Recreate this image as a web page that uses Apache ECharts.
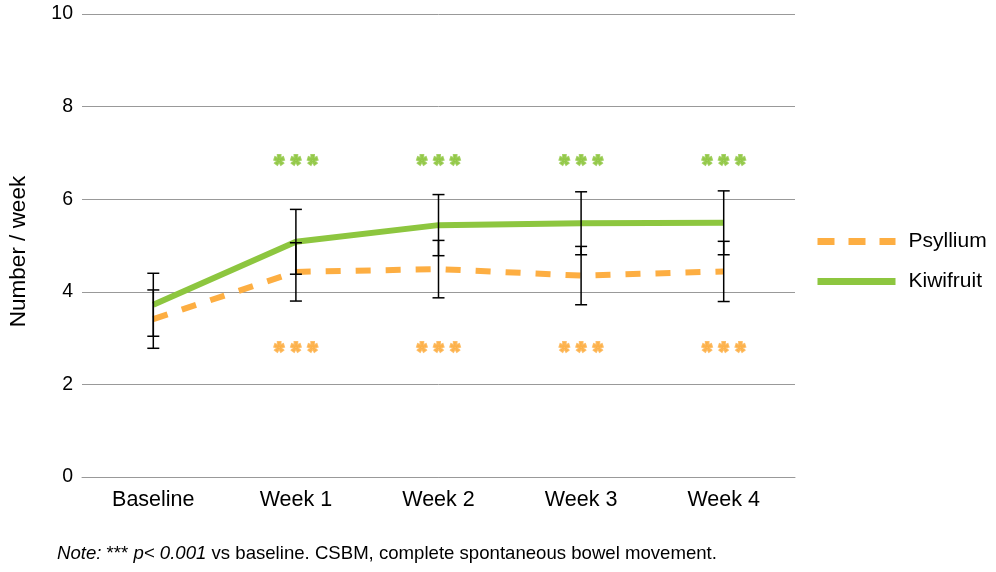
<!DOCTYPE html>
<html>
<head>
<meta charset="utf-8">
<script src="https://cdn.jsdelivr.net/npm/echarts@6/dist/echarts.min.js"></script>
<style>html,body{margin:0;padding:0;background:#fff}#c{width:996px;height:572px}</style>
</head>
<body>
<div id="c"></div>
<script>
const categories = ['Baseline', 'Week 1', 'Week 2', 'Week 3', 'Week 4'];
const psyllium = [3.41, 4.43, 4.49, 4.35, 4.44];
const psylliumErr = [0.63, 0.63, 0.62, 0.63, 0.65];
const kiwifruit = [3.72, 5.08, 5.44, 5.48, 5.49];
const kiwifruitErr = [0.68, 0.70, 0.66, 0.68, 0.69];
const kiwiSigY = 6.87;
const psylSigY = 2.82;
const sigCats = ['Week 1', 'Week 2', 'Week 3', 'Week 4'];
const yTicks = [0, 2, 4, 6, 8, 10];

const ORANGE = '#FDAE42';
const GREEN = '#8DC63F';
const FONT = 'Liberation Sans';

const errData = [];
categories.forEach((c, i) => {
  errData.push([i, kiwifruit[i] - kiwifruitErr[i], kiwifruit[i] + kiwifruitErr[i]]);
  errData.push([i, psyllium[i] - psylliumErr[i], psyllium[i] + psylliumErr[i]]);
});

function renderErr(params, api) {
  const x = api.value(0);
  const lo = api.coord([x, api.value(1)]);
  const hi = api.coord([x, api.value(2)]);
  const hw = 6;
  const style = { stroke: '#000', lineWidth: 1.5 };
  return {
    type: 'group',
    children: [
      { type: 'line', shape: { x1: lo[0], y1: lo[1], x2: hi[0], y2: hi[1] }, style },
      { type: 'line', shape: { x1: lo[0] - hw, y1: lo[1], x2: lo[0] + hw, y2: lo[1] }, style },
      { type: 'line', shape: { x1: hi[0] - hw, y1: hi[1], x2: hi[0] + hw, y2: hi[1] }, style }
    ]
  };
}

function starLabel(color) {
  return { show: true, position: 'inside', formatter: '* * *', color: color,
    fontSize: 25, fontWeight: 'bold', fontFamily: FONT, offset: [0, 7],
    textBorderColor: color, textBorderWidth: 2 };
}

const chart = echarts.init(document.getElementById('c'));
chart.setOption({
  animation: false,
  textStyle: { fontFamily: FONT },
  grid: { left: 82, right: 201, top: 14, bottom: 95, containLabel: false, outerBoundsMode: 'none' },
  legend: {
    orient: 'vertical',
    left: 809,
    top: 226,
    itemWidth: 78,
    itemHeight: 22,
    itemGap: 19,
    itemStyle: { opacity: 0 },
    textStyle: { fontSize: 21, color: '#000', fontFamily: FONT, padding: [0, 0, 0, 8] },
    data: [
      { name: 'Psyllium', lineStyle: { width: 7, type: [17, 14], color: ORANGE } },
      { name: 'Kiwifruit', lineStyle: { width: 7, color: GREEN } }
    ]
  },
  xAxis: {
    type: 'category',
    data: categories,
    boundaryGap: true,
    axisLine: { show: true, lineStyle: { color: '#999', width: 1 } },
    axisTick: { show: false },
    axisLabel: { fontSize: 21.5, color: '#000', margin: 12, fontFamily: FONT }
  },
  yAxis: {
    type: 'value',
    min: 0, max: 10, interval: 2,
    name: 'Number / week',
    nameLocation: 'middle',
    nameGap: 52,
    nameTextStyle: { fontSize: 22.5, color: '#000', fontFamily: FONT, padding: [0, 12, 0, 0] },
    axisLine: { show: false },
    axisTick: { show: false },
    axisLabel: { fontSize: 19.5, color: '#000', margin: 9, fontFamily: FONT,
      formatter: v => yTicks.includes(v) ? String(v) : '' },
    splitLine: { lineStyle: { color: '#999', width: 1 } }
  },
  series: [
    {
      name: 'Psyllium', type: 'line', data: psyllium, symbol: 'none', z: 2,
      lineStyle: { color: ORANGE, width: 6, type: [15, 15] },
      itemStyle: { color: ORANGE }
    },
    {
      name: 'Kiwifruit', type: 'line', data: kiwifruit, symbol: 'none', z: 3,
      lineStyle: { color: GREEN, width: 6 },
      itemStyle: { color: GREEN }
    },
    {
      type: 'custom', data: errData, renderItem: renderErr, z: 5,
      encode: { x: 0, y: [1, 2] }, silent: true
    },
    {
      type: 'scatter', symbolSize: 0, silent: true, z: 6,
      data: sigCats.map(c => [c, kiwiSigY]),
      label: starLabel(GREEN)
    },
    {
      type: 'scatter', symbolSize: 0, silent: true, z: 6,
      data: sigCats.map(c => [c, psylSigY]),
      label: starLabel(ORANGE)
    }
  ],
  graphic: [{
    type: 'text', left: 57, top: 544,
    style: {
      text: '{i|Note:} *** {i|p< 0.001} vs baseline. CSBM, complete spontaneous bowel movement.',
      fontSize: 18.6, fontFamily: FONT, fill: '#000',
      rich: { i: { fontStyle: 'italic', fontSize: 18.6, fontFamily: FONT } }
    }
  }]
});
</script>
</body>
</html>
